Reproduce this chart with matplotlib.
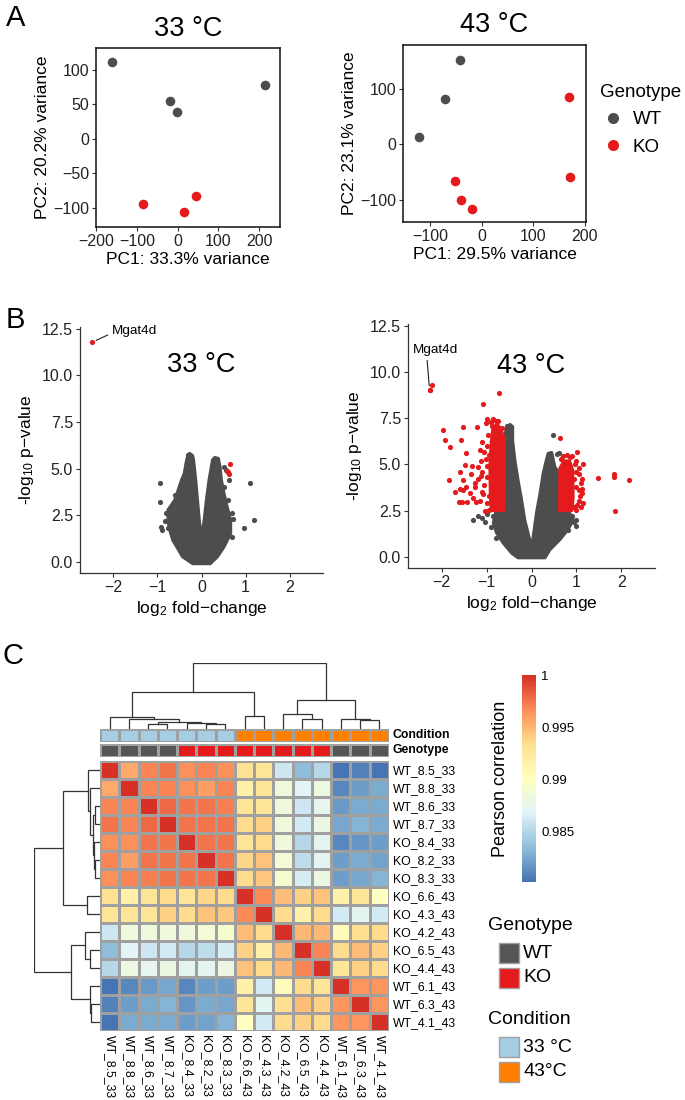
import numpy as np
import matplotlib
matplotlib.use('Agg')
import matplotlib.pyplot as plt
from matplotlib.colors import LinearSegmentedColormap, ListedColormap, Normalize
from matplotlib.patches import Rectangle
from matplotlib.lines import Line2D
from matplotlib.cm import ScalarMappable

plt.rcParams['font.family'] = ['Liberation Sans', 'DejaVu Sans']
plt.rcParams['mathtext.fontset'] = 'custom'
plt.rcParams['mathtext.rm'] = 'Liberation Sans'
plt.rcParams['mathtext.it'] = 'Liberation Sans:italic'

W, H = 685, 1100
GREY = '#4D4D4D'
RED = '#E41A1C'

# ---- panel A: PCA scores ----
pca33_wt_pc1 = [-162, -19, -1, 214]
pca33_wt_pc2 = [112, 55.5, 38.5, 78]
pca33_ko_pc1 = [-86, 15, 46]
pca33_ko_pc2 = [-94, -106, -83]
pca43_wt_pc1 = [-41, -70, -121]
pca43_wt_pc2 = [151, 82, 14]
pca43_ko_pc1 = [170, 172, -52, -40, -19]
pca43_ko_pc2 = [85, -58, -66, -100, -115]

# ---- panel B: volcano plots ----
# dense cloud of non-significant genes, outline (log2FC, -log10 p)
v33_cloud_x = [0.2, -0.2, -0.43, -0.54, -0.65, -0.72, -0.76, -0.76, -0.61, -0.54, -0.48, -0.39, -0.35, -0.31,
               -0.27, -0.2, -0.18, -0.13, -0.09, -0.05, 0.0, 0.06, 0.11, 0.17, 0.25, 0.3, 0.38,
               0.42, 0.45, 0.51, 0.58, 0.66, 0.66, 0.51, 0.36]
v33_cloud_y = [-0.1, -0.1, 0.27, 0.72, 1.16, 1.7, 2.24, 2.78, 3.3, 3.76, 4.2, 4.75, 5.3, 5.73,
               5.82, 5.7, 5.47, 4.39, 3.3, 2.24, 1.25, 2.24, 3.3, 4.39, 5.47, 5.6, 5.55,
               5.1, 4.39, 3.67, 2.96, 2.24, 1.52, 0.8, 0.27]
v33_grey_x = [-0.95, -0.93, -0.91, -0.9, -0.76, -0.5, -0.7, -0.68, -0.8, 1.1, 1.18, 0.96, 0.68, 0.7,
              0.55, 0.5, 0.35, 0.72, 0.62, -0.3, -0.62, -0.55, -0.45, 0.3, -0.82, -0.6, 0.6, 0.52]
v33_grey_y = [4.25, 3.2, 1.88, 1.72, 1.8, 0.9, 2.9, 2.5, 2.6, 4.22, 2.25, 1.82, 1.35, 2.6,
              4.95, 5.1, 5.5, 2.3, 4.4, 5.75, 2.0, 1.5, 4.4, 5.5, 2.2, 3.6, 3.3, 4.0]
v33_red_x = [0.64, 0.58, 0.62, 0.6]
v33_red_y = [5.25, 4.89, 4.71, 4.8]
v33_label = ('Mgat4d', -2.47, 11.79)

v43_cloud_x = [0.3, -0.3, -0.44, -0.63, -0.78, -0.85, -0.8, -0.65, -0.62, -0.62, -0.63, -0.56, -0.48,
               -0.42, -0.42, -0.37, -0.3, -0.22, -0.15, -0.04, 0.0, 0.05, 0.11, 0.19, 0.26, 0.33, 0.37,
               0.45, 0.52, 0.6, 0.62, 0.65, 0.85, 0.93, 0.81, 0.63, 0.41]
v43_cloud_y = [-0.05, -0.05, 0.2, 0.75, 1.3, 1.83, 2.4, 2.6, 4.0, 5.5, 6.3, 6.94, 7.17,
               7.05, 6.3, 5.23, 4.16, 3.08, 2.0, 0.93, 0.5, 1.3, 2.37, 3.44, 4.52, 5.23, 5.6,
               5.65, 4.87, 4.6, 3.5, 2.5, 2.37, 2.0, 1.47, 0.93, 0.39]
v43_grey_x = [-1.31, -1.19, -1.04, -1.0, -0.78, -0.9, -0.55, 0.48, 0.61, 0.57, 1.0, 1.0, 0.81, 0.9,
              -0.85, -0.7, -1.1, 0.95]
v43_grey_y = [2.0, 2.2, 1.9, 2.3, 1.0, 1.6, 7.1, 6.58, 5.63, 5.55, 2.0, 1.68, 1.47, 2.2,
              2.2, 1.5, 2.1, 1.9]
# dense cores of significant genes
v43_redblock_left_x = [-0.9, -0.62, -0.6, -0.6, -0.68, -0.76, -0.86, -0.9, -0.93, -0.92]
v43_redblock_left_y = [2.5, 2.5, 4.0, 6.4, 6.9, 7.2, 7.0, 6.2, 5.0, 3.3]
v43_redblock_right_x = [0.62, 0.9, 0.93, 0.92, 0.85, 0.72, 0.63]
v43_redblock_right_y = [2.5, 2.5, 3.2, 4.7, 5.2, 5.2, 4.8]
v43_red_x = [-0.73, -1.08, -1.98, -1.92, -1.81, -1.53, -1.21, -1.84, -1.58, -1.46, -1.48, -1.61, -1.54,
             -1.43, -1.53, -1.52, -1.37, -1.24, -1.35, -1.19, -1.04, -1.33, -1.25, -1.3, -1.15, -1.1,
             -0.98, -0.9, -1.02, -1.12, -1.2, -1.1, -1.45, -1.6, -1.6, -1.7, -2.27, -2.21,
             -0.85, -0.8, -0.75, -0.97, -1.0, -1.05, -0.95, -1.1, -1.0, -1.05, -0.95, -1.0, -0.9,
             -1.15, -1.25, -0.66, -0.7, -0.98, -1.02, -0.94, -1.08, -1.12, -0.88, -0.82,
             0.63, 1.02, 1.15, 1.48, 1.83, 1.84, 2.16, 1.87, 1.13, 1.15, 1.05, 1.1, 1.12, 1.0,
             1.05, 0.9, 1.1, 1.05, 1.0, 0.98, 1.05, 0.95, 1.0, 0.85, 0.7, 1.07, 1.12, 0.96,
             0.94, 0.66, 0.78, 1.02]
v43_red_y = [8.87, 8.28, 6.88, 6.31, 5.95, 7.03, 7.03, 4.14, 6.31, 5.6, 4.96, 2.99, 2.96,
             2.99, 4.16, 3.62, 3.44, 2.96, 4.48, 4.87, 2.46, 4.9, 3.8, 3.2, 5.8, 6.2,
             7.45, 7.3, 7.25, 5.2, 4.2, 3.5, 3.8, 4.6, 3.7, 3.5, 9.03, 9.3,
             7.45, 7.35, 7.35, 6.6, 6.0, 5.7, 5.5, 4.6, 4.3, 3.9, 3.3, 2.9, 2.6,
             3.0, 4.0, 7.0, 6.6, 4.9, 5.3, 2.55, 3.4, 4.4, 7.1, 6.0,
             6.45, 5.68, 5.05, 4.25, 4.48, 4.34, 4.16, 2.51, 3.44, 2.9, 4.5, 4.0, 4.2, 5.2,
             3.0, 5.45, 2.7, 4.8, 4.6, 3.8, 3.6, 2.7, 2.55, 5.4, 5.45, 3.3, 3.7, 5.0,
             4.2, 5.3, 5.5, 2.8]
v43_label = ('Mgat4d', -2.27, 9.03)

# ---- panel C: sample correlation heatmap ----
samples = ['WT_8.5_33', 'WT_8.8_33', 'WT_8.6_33', 'WT_8.7_33', 'KO_8.4_33', 'KO_8.2_33', 'KO_8.3_33',
           'KO_6.6_43', 'KO_4.3_43', 'KO_4.2_43', 'KO_6.5_43', 'KO_4.4_43', 'WT_6.1_43', 'WT_6.3_43',
           'WT_4.1_43']
corr_lower = [
    [],
    [0.9955],
    [0.9970, 0.9970],
    [0.9975, 0.9970, 0.9980],
    [0.9965, 0.9965, 0.9975, 0.9975],
    [0.9970, 0.9960, 0.9975, 0.9975, 0.9975],
    [0.9965, 0.9970, 0.9972, 0.9975, 0.9975, 0.9975],
    [0.9932, 0.9915, 0.9930, 0.9935, 0.9930, 0.9938, 0.9935],
    [0.9930, 0.9930, 0.9930, 0.9940, 0.9935, 0.9945, 0.9943, 0.9968],
    [0.9860, 0.9885, 0.9885, 0.9885, 0.9885, 0.9888, 0.9893, 0.9948, 0.9935],
    [0.9835, 0.9870, 0.9860, 0.9863, 0.9850, 0.9855, 0.9865, 0.9940, 0.9915, 0.9950],
    [0.9850, 0.9882, 0.9875, 0.9880, 0.9872, 0.9872, 0.9880, 0.9945, 0.9935, 0.9950, 0.9970],
    [0.9803, 0.9810, 0.9818, 0.9825, 0.9810, 0.9820, 0.9820, 0.9915, 0.9863, 0.9903, 0.9935, 0.9928],
    [0.9808, 0.9820, 0.9826, 0.9830, 0.9816, 0.9826, 0.9825, 0.9928, 0.9873, 0.9933, 0.9948, 0.9940,
     0.9963],
    [0.9802, 0.9826, 0.9826, 0.9826, 0.9820, 0.9823, 0.9830, 0.9900, 0.9863, 0.9935, 0.9940, 0.9935,
     0.9963, 0.9963],
]
# hierarchical clustering merges: (node a, node b, height); new nodes numbered from 15
dend_merges = [
    (2, 3, 13), (5, 6, 13), (4, 16, 17), (15, 17, 19), (1, 18, 27), (0, 19, 35),
    (7, 8, 38), (20, 21, 109), (10, 11, 27), (9, 23, 44), (13, 14, 26), (12, 25, 29),
    (24, 26, 86), (22, 27, 196),
]
cbar_ticks = [0.985, 0.99, 0.995, 1.0]
cbar_ticklabels = ['0.985', '0.99', '0.995', '1']
genotype_colors = {'WT': '#555555', 'KO': RED}
condition_colors = {'33': '#A6CEE3', '43': '#FF7F00'}
condition_names = {'33': '33 °C', '43': '43°C'}

fig = plt.figure(figsize=(W / 100, H / 100), dpi=100)


def rect(l, t, r, b):
    return [l / W, 1 - b / H, (r - l) / W, (b - t) / H]


def style_ticks(ax, size):
    ax.tick_params(direction='out', length=3, width=0.8, colors='#333333', labelsize=size,
                   labelcolor='#222222', pad=2)


# ---------- panel A ----------
def pca_panel(box, title, wx, wy, kx, ky, xlim, ylim, xticks, yticks, xlab, ylab):
    ax = fig.add_axes(rect(*box))
    ax.scatter(wx, wy, s=48, color=GREY, lw=0, zorder=3)
    ax.scatter(kx, ky, s=48, color=RED, lw=0, zorder=3)
    ax.set_xlim(xlim)
    ax.set_ylim(ylim)
    ax.set_xticks(xticks)
    ax.set_yticks(yticks)
    style_ticks(ax, 11.5)
    for s in ax.spines.values():
        s.set_linewidth(1.1)
        s.set_color('#111111')
    ax.set_xlabel(xlab, fontsize=12.5, labelpad=2)
    ax.set_ylabel(ylab, fontsize=12.5, labelpad=2)
    ax.set_title(title, fontsize=19.5, pad=9)
    return ax


pca_panel((96, 48, 280, 227), '33 °C', pca33_wt_pc1, pca33_wt_pc2, pca33_ko_pc1, pca33_ko_pc2,
          (-200, 251), (-128, 132), [-200, -100, 0, 100, 200], [-100, -50, 0, 50, 100],
          'PC1: 33.3% variance', 'PC2: 20.2% variance')
pca_panel((403, 45, 586, 222), '43 °C', pca43_wt_pc1, pca43_wt_pc2, pca43_ko_pc1, pca43_ko_pc2,
          (-152, 202), (-139, 178), [-100, 0, 100, 200], [-100, 0, 100],
          'PC1: 29.5% variance', 'PC2: 23.1% variance')
handles = [Line2D([], [], ls='', marker='o', ms=8, color=GREY, mew=0, label='WT'),
           Line2D([], [], ls='', marker='o', ms=8, color=RED, mew=0, label='KO')]
leg = fig.legend(handles=handles, title='Genotype', loc='upper left', bbox_to_anchor=(600 / W, 1 - 84 / H),
                 frameon=False, fontsize=13.5, title_fontsize=13.5, handletextpad=0.35, labelspacing=0.55,
                 handlelength=1.4, borderpad=0, borderaxespad=0)
leg._legend_box.align = 'left'


# ---------- panel B ----------
def volcano(box, title, cx, cy, gx, gy, rx, ry, label, blocks, title_y, text_xy, relpos):
    ax = fig.add_axes(rect(*box))
    ax.fill(cx, cy, color=GREY, lw=2.2, joinstyle='round', zorder=2)
    ax.scatter(gx, gy, s=14, color=GREY, lw=0, zorder=2)
    for bx, by in blocks:
        ax.fill(bx, by, color=RED, lw=2.0, joinstyle='round', zorder=3)
    ax.scatter(rx, ry, s=14, color=RED, lw=0, zorder=3)
    ax.scatter([label[1]], [label[2]], s=14, color=RED, lw=0, zorder=3)
    ax.annotate(label[0], xy=(label[1], label[2]), xytext=text_xy, fontsize=9.7,
                ha='left' if relpos[1] > 0 else 'center', va='center',
                arrowprops=dict(arrowstyle='-', lw=0.8, color='#222222', shrinkA=1, shrinkB=3,
                                relpos=relpos))
    ax.set_xlim(-2.75, 2.75)
    ax.set_ylim(-0.6, 12.6)
    ax.set_xticks([-2, -1, 0, 1, 2])
    ax.set_yticks([0, 2.5, 5, 7.5, 10, 12.5])
    ax.set_yticklabels(['0.0', '2.5', '5.0', '7.5', '10.0', '12.5'])
    style_ticks(ax, 11.5)
    for side in ('top', 'right'):
        ax.spines[side].set_visible(False)
    for side in ('left', 'bottom'):
        ax.spines[side].set_linewidth(0.9)
        ax.spines[side].set_color('#333333')
    ax.set_xlabel('log$_{\\mathrm{2}}$ fold\u2212change', fontsize=12.5, labelpad=3)
    ax.set_ylabel('-log$_{\\mathrm{10}}$ p\u2212value', fontsize=12.5, labelpad=4)
    ax.text(0, title_y, title, fontsize=19.5, ha='center', va='center')
    return ax


volcano((80, 327, 323, 573), '33 °C', v33_cloud_x, v33_cloud_y, v33_grey_x, v33_grey_y,
        v33_red_x, v33_red_y, v33_label, [], 10.57, (-2.03, 12.4), (0, 0.3))
volcano((408, 324, 655, 568), '43 °C', v43_cloud_x, v43_cloud_y, v43_grey_x, v43_grey_y,
        v43_red_x, v43_red_y, v43_label,
        [(v43_redblock_left_x, v43_redblock_left_y), (v43_redblock_right_x, v43_redblock_right_y)],
        10.34, (-2.13, 11.18), (0.3, 0))

# ---------- panel C ----------
n = len(samples)
corr = np.eye(n)
for i, row in enumerate(corr_lower):
    corr[i, :i] = row
    corr[:i, i] = row

rdylbu7 = ['#4575B4', '#91BFDB', '#E0F3F8', '#FFFFBF', '#FEE090', '#FC8D59', '#D73027']
cmap = LinearSegmentedColormap.from_list('pheat', rdylbu7, N=100)
norm = Normalize(vmin=corr.min(), vmax=1.0)
BORDER = '#A0A0A0'

axh = fig.add_axes(rect(100, 760.7, 389, 1031))
axh.pcolormesh(corr, cmap=cmap, norm=norm, edgecolors=BORDER, linewidth=0.8)
axh.set_xlim(0, n)
axh.set_ylim(n, 0)
axh.set_xticks(np.arange(n) + 0.5)
axh.set_xticklabels(samples, rotation=270, fontsize=8.8, va='top', ha='center')
axh.set_yticks(np.arange(n) + 0.5)
axh.set_yticklabels(samples, fontsize=8.8)
axh.yaxis.tick_right()
axh.tick_params(length=0, pad=3)
for s in axh.spines.values():
    s.set_visible(False)

# annotation bars
geno = [s.split('_')[0] for s in samples]
cond = [s.split('_')[-1] for s in samples]
for top, bottom, keys, cols, name in [(729, 741.7, cond, condition_colors, 'Condition'),
                                      (744.3, 756.7, geno, genotype_colors, 'Genotype')]:
    axa = fig.add_axes(rect(100, top, 389, bottom))
    levels = list(cols.keys())
    idx = np.array([[levels.index(k) for k in keys]])
    axa.pcolormesh(idx, cmap=ListedColormap([cols[k] for k in levels]), vmin=-0.5,
                   vmax=len(levels) - 0.5, edgecolors=BORDER, linewidth=0.8)
    axa.set_xlim(0, n)
    axa.set_ylim(1, 0)
    axa.axis('off')
    axa.text(1.012, 0.5, name, transform=axa.transAxes, fontsize=8.8, fontweight='bold',
             va='center', ha='left')


# dendrograms
def dendro_segments(merges, n_leaves):
    pos = {i: i + 0.5 for i in range(n_leaves)}
    hgt = {i: 0.0 for i in range(n_leaves)}
    segs = []
    for k, (a, b, h) in enumerate(merges):
        segs.append(([pos[a], pos[a], pos[b], pos[b]], [hgt[a], h, h, hgt[b]]))
        node = n_leaves + k
        pos[node] = (pos[a] + pos[b]) / 2
        hgt[node] = h
    return segs


segs = dendro_segments(dend_merges, n)
hmax = max(m[2] for m in dend_merges)
axt = fig.add_axes(rect(100, 662.7, 389, 728.5))
axl = fig.add_axes(rect(34, 760.7, 99.5, 1031))
for xs, hs in segs:
    axt.plot(xs, hs, color='#333333', lw=0.9, solid_joinstyle='miter')
    axl.plot(hs, xs, color='#333333', lw=0.9, solid_joinstyle='miter')
axt.set_xlim(0, n)
axt.set_ylim(0, hmax)
axl.set_ylim(n, 0)
axl.set_xlim(hmax, 0)
for a in (axt, axl):
    a.axis('off')

# colour key
cax = fig.add_axes(rect(521.7, 675, 535.7, 882))
cb = fig.colorbar(ScalarMappable(norm=norm, cmap=cmap), cax=cax)
cb.outline.set_visible(False)
cb.set_ticks(cbar_ticks)
cb.set_ticklabels(cbar_ticklabels)
cax.tick_params(length=0, labelsize=9.5, pad=4)
cax.yaxis.set_label_position('left')
cax.set_ylabel('Pearson correlation', fontsize=13, labelpad=9)


# annotation legends
def square_legend(title, title_y, items, first_y):
    fig.text(488 / W, 1 - title_y / H, title, fontsize=14, va='center', ha='left')
    for j, (lab, col) in enumerate(items):
        y0 = first_y + j * 25
        fig.add_artist(Rectangle((499 / W, 1 - (y0 + 20) / H), 20 / W, 20 / H, facecolor=col,
                                 edgecolor=BORDER, lw=1.0, transform=fig.transFigure))
        fig.text(523 / W, 1 - (y0 + 10) / H, lab, fontsize=14, va='center', ha='left')


square_legend('Genotype', 926, [('WT', genotype_colors['WT']), ('KO', genotype_colors['KO'])], 943)
square_legend('Condition', 1020, [(condition_names[k], condition_colors[k]) for k in ('33', '43')], 1037)

# panel letters
fig.text(16 / W, 1 - 18 / H, 'A', fontsize=21, va='center', ha='center')
fig.text(15 / W, 1 - 320 / H, 'B', fontsize=21, va='center', ha='center')
fig.text(13 / W, 1 - 656 / H, 'C', fontsize=21, va='center', ha='center')

fig.savefig('out.png', dpi=100)
